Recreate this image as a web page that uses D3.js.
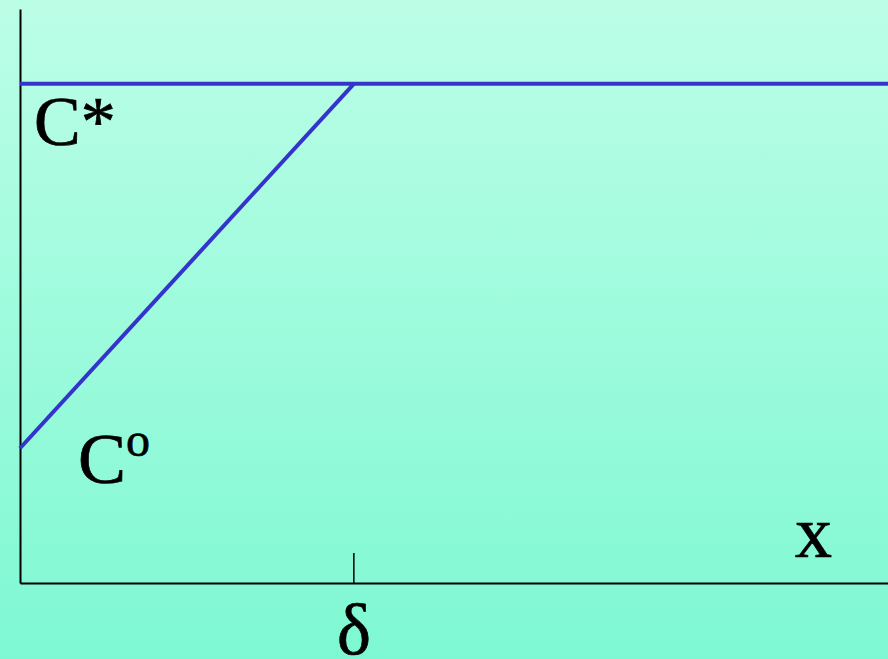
<!DOCTYPE html>
<html>
<head>
<meta charset="utf-8">
<script src="https://cdn.jsdelivr.net/npm/d3@7"></script>
<style>
  html, body { margin: 0; padding: 0; }
  svg { display: block; }
</style>
</head>
<body>
<script>
// Concentration profile across a boundary layer of thickness δ
const xDomain = [0, 2.6];          // distance from surface (in units of δ)
const cDomain = [0, 1.15];         // concentration (relative to C*)
const profileX = [0, 1];           // surface → edge of layer δ
const profileC = [0.27, 1];        // C° at surface rising to C*
const bulkX = [0, 2.6];            // bulk concentration line
const bulkC = [1, 1];
const tickValues = [1];
const tickLabels = ["δ"];

const W = 888, H = 659;
const margin = { left: 20, right: 0, top: 9, bottom: 76 };
const SERIF = "'Liberation Serif', 'Times New Roman', Times, serif";

const svg = d3.select("body").append("svg")
  .attr("width", W).attr("height", H);

const defs = svg.append("defs");
const grad = defs.append("linearGradient")
  .attr("id", "bg").attr("x1", 0).attr("y1", 0).attr("x2", 0).attr("y2", 1);
grad.append("stop").attr("offset", "0%").attr("stop-color", "#bcfee7");
grad.append("stop").attr("offset", "100%").attr("stop-color", "#7ef8d2");
svg.append("rect").attr("width", W).attr("height", H).attr("fill", "url(#bg)");

const x = d3.scaleLinear().domain(xDomain).range([margin.left, W - margin.right]);
const y = d3.scaleLinear().domain(cDomain).range([H - margin.bottom, margin.top]);

// Axes
const axisX = svg.append("g")
  .attr("transform", `translate(0,${y(0)})`)
  .call(d3.axisBottom(x).tickValues([]).tickSizeOuter(0));
axisX.select(".domain").attr("stroke", "#000").attr("stroke-width", 2);

const axisY = svg.append("g")
  .attr("transform", `translate(${x(0)},0)`)
  .call(d3.axisLeft(y).tickValues([]).tickSizeOuter(0));
axisY.select(".domain").attr("stroke", "#000").attr("stroke-width", 2);

// δ tick (drawn upward from the axis) and its label
svg.selectAll(".dtick").data(tickValues).enter().append("line")
  .attr("x1", d => x(d)).attr("x2", d => x(d))
  .attr("y1", y(0)).attr("y2", y(0) - 30)
  .attr("stroke", "#000").attr("stroke-width", 1.5);

function label(sel) {
  return sel.attr("font-family", SERIF)
    .attr("fill", "#000").attr("stroke", "#000").attr("stroke-width", 0.7);
}

svg.selectAll(".dlabel").data(tickValues).enter().append("text")
  .attr("x", d => x(d)).attr("y", 654)
  .attr("text-anchor", "middle")
  .attr("font-size", 72)
  .call(label)
  .text((d, i) => tickLabels[i]);

// Lines
const line = d3.line().x(d => x(d[0])).y(d => y(d[1]));
svg.append("path")
  .datum(bulkX.map((v, i) => [v, bulkC[i]]))
  .attr("d", line).attr("fill", "none")
  .attr("stroke", "#3434cc").attr("stroke-width", 4);
svg.append("path")
  .datum(profileX.map((v, i) => [v, profileC[i]]))
  .attr("d", line).attr("fill", "none")
  .attr("stroke", "#3434cc").attr("stroke-width", 4);

// Labels
svg.append("text").attr("x", 34).attr("y", 145)
  .attr("font-size", 70).call(label).text("C*");

const c0 = svg.append("text").attr("x", 78).attr("y", 483)
  .attr("font-size", 72).call(label);
c0.append("tspan").text("C");
c0.append("tspan").attr("font-size", 48).attr("dy", -27).text("o");

svg.append("text").attr("x", 795).attr("y", 557)
  .attr("font-size", 74).call(label).text("x");
</script>
</body>
</html>
